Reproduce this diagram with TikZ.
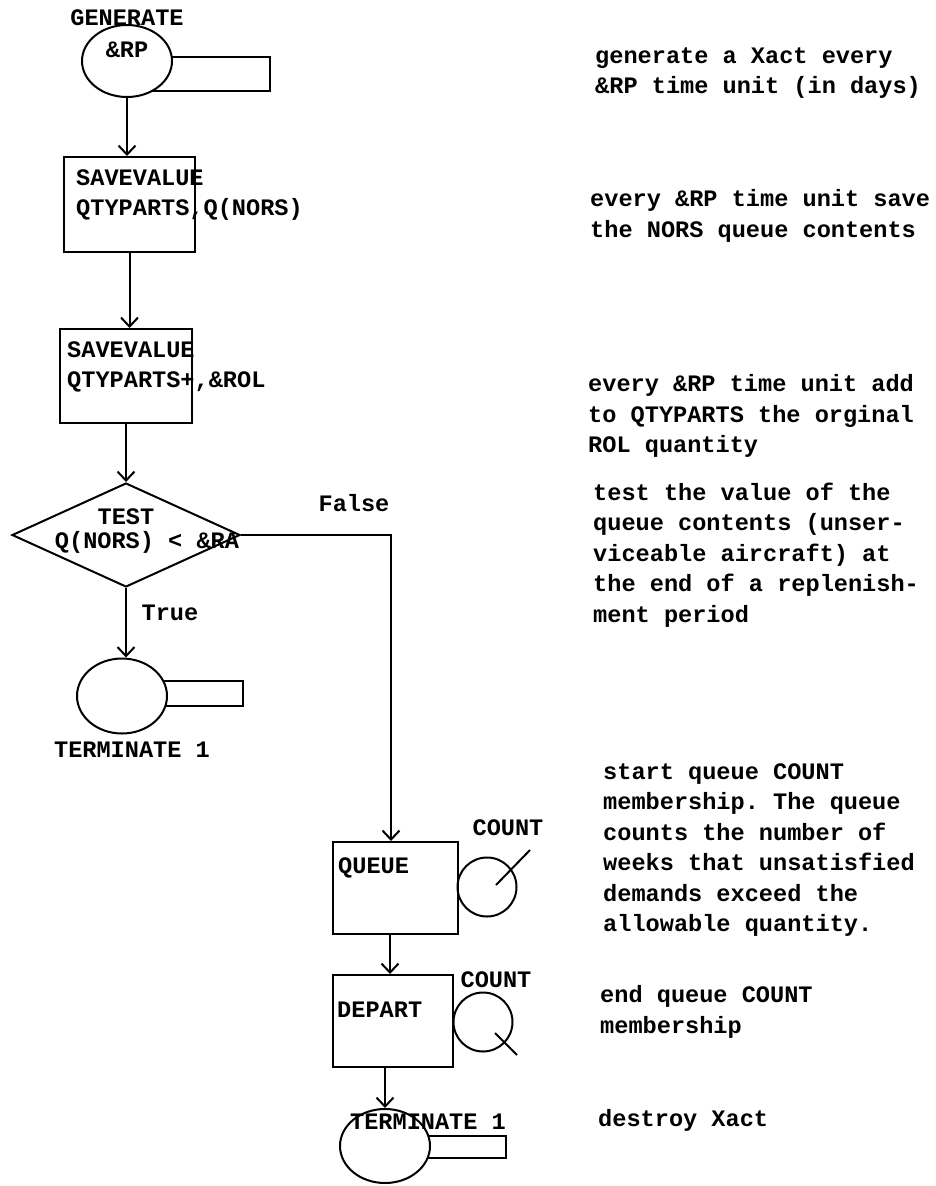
\documentclass[tikz,border=0pt]{standalone}
\usepackage{fontspec}
\setmonofont{Liberation Mono}
\usetikzlibrary{shapes.geometric,arrows.meta}
\begin{document}
\begin{tikzpicture}[
    x=1pt, y=-1pt,
    every node/.style={inner sep=0pt, font=\ttfamily\bfseries\fontsize{23.6}{30.5}\selectfont},
    edge/.style={line width=2pt},
    flow/.style={edge, -{Straight Barb[length=9pt, width=17pt]}},
    blk/.style={draw, rectangle, line width=2pt},
    ell/.style={draw, ellipse, fill=white, line width=2pt, minimum width=90pt},
    tail/.style={draw, rectangle, anchor=west, line width=2pt},
    qcirc/.style={draw, circle, line width=2pt, minimum size=59pt},
    lab/.style={align=left},
    note/.style={anchor=west, align=left}
]
\useasboundingbox (0,0) rectangle (935,1186);

\node[tail, minimum width=124pt, minimum height=34pt] (gtail) at (145,74) {};
\node[ell, minimum height=72pt] (gen) at (127,61) {};
\node[lab] (gname) at (127,18) {GENERATE};
\node[lab] (grp)   at (127,50) {\&RP};

\node[blk, minimum width=131pt, minimum height=95pt] (sv1) at (129.5,204.5) {};
\node[lab, anchor=west] (sv1t) at (76,195) {SAVEVALUE\\QTYPARTS,Q(NORS)};

\node[blk, minimum width=132pt, minimum height=94pt] (sv2) at (126,376) {};
\node[lab, anchor=west] (sv2t) at (67,367) {SAVEVALUE\\QTYPARTS+,\&ROL};

\node[draw, diamond, line width=2pt, minimum width=228pt, minimum height=104pt] (test) at (126,535) {};
\node[lab] (tname) at (126,517) {TEST};
\node[lab] (tcond) at (147,542) {Q(NORS) < \&RA};

\node[tail, minimum width=87pt, minimum height=25pt] (t1tail) at (155,693.5) {};
\node[ell, minimum height=75pt] (tr1) at (122,696) {};
\node[lab] (tr1t) at (132,750) {TERMINATE 1};

\node[blk, minimum width=125pt, minimum height=92pt] (queue) at (395.5,888) {};
\node[lab, anchor=west] (queuet) at (338,868) {QUEUE};
\node[qcirc] (qc) at (487,887) {};
\node[lab] (qct) at (508,828) {COUNT};

\node[blk, minimum width=120pt, minimum height=92pt] (depart) at (393,1021) {};
\node[lab, anchor=west] (departt) at (337,1010) {DEPART};
\node[qcirc] (dc) at (483,1022) {};
\node[lab] (dct) at (496,980) {COUNT};

\node[tail, minimum width=87pt, minimum height=22pt] (t2tail) at (418,1147) {};
\node[ell, minimum height=74pt] (tr2) at (385,1146) {};
\node[lab] (tr2t) at (428,1122) {TERMINATE 1};

\node[lab] (flab) at (354,503) {False};
\node[lab] (tlab) at (170,613) {True};

\draw[flow] (gen.south) -- (gen.south |- sv1.north);
\draw[flow] (sv1.south) -- (sv1.south |- sv2.north);
\draw[flow] (sv2.south) -- (sv2.south |- test.north);
\draw[flow] (test.south) -- (test.south |- tr1.north);
\draw[flow] (test.east) -| ([xshift=-4.5pt]queue.north);
\draw[flow] ([xshift=-5.5pt]queue.south) -- ([xshift=-5.5pt]queue.south |- depart.north);
\draw[flow] (tr2.north |- depart.south) -- (tr2.north);

\draw[edge] ([shift={(9,-2)}]qc.center) -- ([shift={(43,-37)}]qc.center);
\draw[edge] ([shift={(12,11)}]dc.center) -- ([shift={(34,33)}]dc.center);

\node[note] (n1) at (595,73)   {generate a Xact every\\\&RP time unit (in days)};
\node[note] (n2) at (590,216)  {every \&RP time unit save\\the NORS queue contents};
\node[note] (n3) at (588,416)  {every \&RP time unit add\\to QTYPARTS the orginal\\ROL quantity};
\node[note] (n4) at (593,555)  {test the value of the\\queue contents (unser-\\viceable aircraft) at\\the end of a replenish-\\ment period};
\node[note] (n5) at (603,850)  {start queue COUNT\\membership. The queue\\counts the number of\\weeks that unsatisfied\\demands exceed the\\allowable quantity.};
\node[note] (n6) at (600,1012) {end queue COUNT\\membership};
\node[note] (n7) at (598,1120) {destroy Xact};

\end{tikzpicture}
\end{document}
